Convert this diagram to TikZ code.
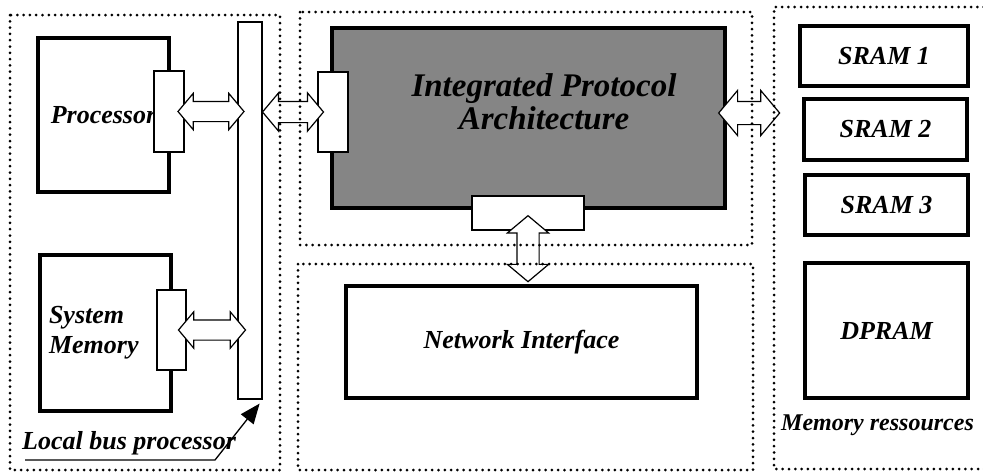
\documentclass[tikz,border=0pt]{standalone}
\usepackage{fontspec}
\setmainfont{Liberation Serif}
\usetikzlibrary{shapes.arrows,calc,arrows.meta}

\begin{document}
\begin{tikzpicture}[x=1pt,y=-1pt]
\tikzstyle{blk}=[draw,line width=3.3pt,inner sep=0pt,font=\fontsize{26}{30}\selectfont\bfseries\itshape]
\tikzstyle{port}=[draw,line width=1.2pt,fill=white,inner sep=0pt]
\tikzstyle{dbl}=[double arrow,draw,line width=1.2pt,fill=white,inner xsep=0pt,inner ysep=9.5pt,minimum width=0pt,double arrow head extend=8pt,double arrow tip angle=100]
\tikzstyle{region}=[line width=3pt,line cap=round,dash pattern=on 0pt off 6.3pt]
\tikzstyle{lbl}=[inner sep=0pt,font=\fontsize{26}{33}\selectfont\bfseries\itshape]
\useasboundingbox (0,0) rectangle (983,472);
\node[blk,minimum width=131,minimum height=154] (proc) at (103.5,115) {Processor};
\node[blk,minimum width=131,minimum height=156,text width=113,align=left] (mem) at (105.5,333) {System\\Memory};
\node[draw,line width=1.2pt,minimum width=24,minimum height=377] (bus) at (250,210.5) {};
\node[blk,fill=black!48,minimum width=393,minimum height=180] (ipa) at (528.5,118) {};
\node[lbl,align=center,font=\fontsize{33}{33}\selectfont\bfseries\itshape] (ipalbl) at (544,102) {Integrated Protocol\\Architecture};
\node[blk,minimum width=351,minimum height=112] (ni) at (521.5,342) {Network Interface};
\node[blk,minimum width=168,minimum height=60] (sram1) at (884,56) {SRAM 1};
\node[blk,minimum width=163,minimum height=61] (sram2) at (885.5,129.5) {SRAM 2};
\node[blk,minimum width=163,minimum height=60] (sram3) at (886.5,205) {SRAM 3};
\node[blk,minimum width=163,minimum height=135] (dpram) at (886.5,330.5) {DPRAM};
\node[lbl,font=\fontsize{24}{28}\selectfont\bfseries\itshape,anchor=west] (memres) at (781,425) {Memory ressources};
\node[port,minimum width=30,minimum height=81] (procport) at (169,111.5) {};
\node[port,minimum width=29,minimum height=80] (memport) at (171.5,330) {};
\node[port,minimum width=30,minimum height=80] (ipaleft) at (333,112) {};
\node[port,minimum width=112,minimum height=34] (ipabot) at (528,213) {};
\node[dbl,minimum height=66] (pb) at ($(procport.east)!.5!(bus.west |- procport.east)$) {};
\node[dbl,minimum height=67] (mb) at ($(memport.east)!.5!(bus.west |- memport.east)$) {};
\node[dbl,minimum height=61,inner ysep=10pt,double arrow head extend=8.5pt] (bi) at ($(bus.east |- ipaleft.west)!.5!(ipaleft.west)+(3,0)$) {};
\node[dbl,minimum height=61,inner ysep=11pt,double arrow head extend=11pt] (im) at ($(ipa.east)+(22.5,-5)$) {};
\node[dbl,rotate=90,minimum height=66,inner ysep=10.5pt,double arrow head extend=9.5pt] (in) at ($(ipabot.center)!.5!(ipabot.center |- ni.north)$) {};
\node[lbl,anchor=west] (lbp) at (22,443) {Local bus processor};
\coordinate (lbpa) at (25,460);
\coordinate (lbpb) at (215,460);
\draw[line width=1.3pt,-{Triangle[length=20pt,width=16pt]}] (lbpa) -- (lbpb) -- ([shift={(-3,4)}]bus.south east);
\draw[region] (10,15) rectangle (280,470);
\draw[region] (300,12) rectangle (752,245);
\draw[region] (298,264) rectangle (753,470);
\draw[region] (990,7) -- (774,7) -- (774,469) -- (990,469);
\end{tikzpicture}
\end{document}
